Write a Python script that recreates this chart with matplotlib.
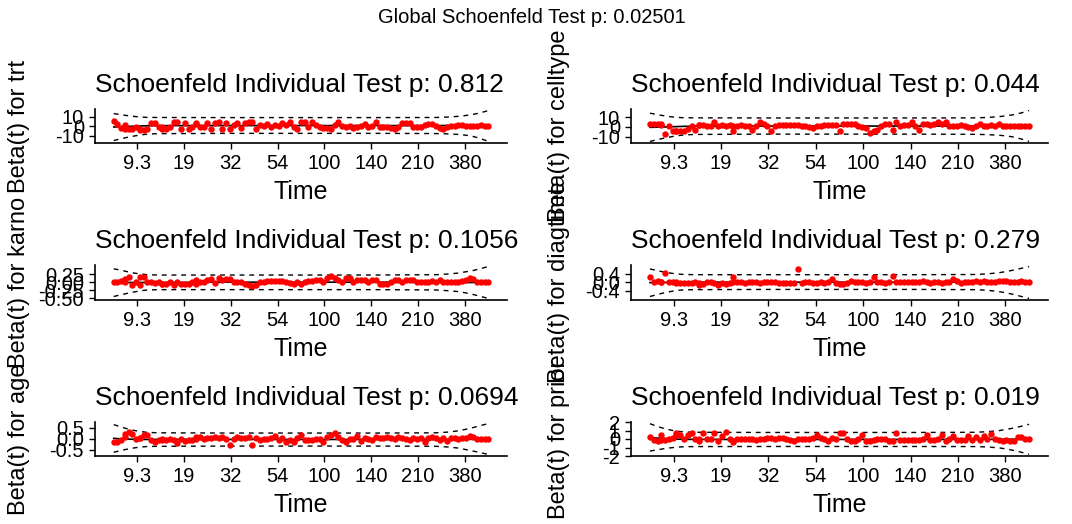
import matplotlib
matplotlib.use("Agg")
import matplotlib.pyplot as plt
from matplotlib.transforms import Bbox, TransformedBbox

plt.rcParams['font.family'] = ['Liberation Sans', 'DejaVu Sans']

# ---------------------------------------------------------------- data
GLOBAL_P = "0.02501"

# event positions on the KM-transformed time axis (0 = first event, 100 = last)
TIME_POS = [0, 1, 2, 3, 3, 4, 5, 6, 7, 7, 8, 9, 10, 11, 12, 13, 13, 14, 15, 16,
            17, 18, 19, 20, 21, 22, 22, 23,
            24, 25, 26, 27, 28, 29, 30, 31, 32, 33, 34, 35, 36, 37, 38, 39, 40,
            41, 42, 43, 44, 45, 46, 47, 48, 49, 50, 51, 52, 53, 54, 55, 56, 57,
            58, 59, 60, 61, 62, 63, 64, 65, 66, 67, 68, 69, 70, 71, 72, 73, 74,
            75, 76, 77, 78, 79, 80, 81, 82, 83, 84, 85, 86, 87, 88, 89, 90, 91,
            92, 93, 94, 95, 96, 97, 98, 99, 100]
TIME_TICK_LABELS = ["9.3", "19", "32", "54", "100", "140", "210", "380"]

# smoothed beta(t) and its confidence band, evaluated on these positions
SMOOTH_POS = [0, 1.5, 3, 4.5, 6, 7.5, 9, 12, 30, 50, 70, 86, 89, 92, 94, 96, 98, 100]

covariates = ["trt", "celltype", "karno", "diagtime", "age", "prior"]
p_values = ["0.812", "0.044", "0.1056", "0.279", "0.0694", "0.019"]

resid_trt = [5, 2.5, -1.5, 1.5, -2.5, -2.5, -3, -1, -3.5, -3, -3.5, -3, 3, 3, -1,
             -2.5, -1, -2.5, -1, 4, 4, -2.5, 3, -2.5, -1, 3, 2, -1,
             -1, 3, -2.5, 3, 4, -2.5, 3, -3, 1, 3, -1.5, 3, 4, 4, -3, 1, 0, 2,
             -1, 1, 0, 3, 1, 4, -1, -3, 4, 4, -1, 4, 1, -1, -2, -2, -3, 1, 4,
             0, -1, 0, -2, -1, 0, 2, -1, 0, 4, -1, -1, -1, -2, -2.5, -1, 3, 3.5,
             3, -0.5, -1, -0.5, 1, 2, 2, 0, -2, -2.5, -1, 0, 0.5, 1, 1, 0.5,
             0.5, 0.5, 0.5, 1, 0.5, 0.5]
resid_celltype = [3, 3, 3, 3, 2, -7, 1, -4.5, -4.5, -4, -4, -4, -2, 1, -3, 2, 2,
                  2, 1, 1, 5, 1, 2, 1, 1.5, -4, 1, 1,
                  2, 1, 1, -3, 1, 5, 3, 1, -4, 1, 1.5, 1.5, 1.5, 1.5, 1.5, 1.5,
                  0.5, 0.5, -0.5, -1, 0.5, 1, 1.5, 1.5, 1.5, 1.5, -4, 3, 3, 3,
                  3, 1, 0, -1, -6, -4, -3, 1, 3, 3, -3, 5, 1, 1.5, 2, 5, 1, -3,
                  3, 3, 2, 3, 5, 3, 5, 1, 1, 1, 1.5, 1, 0, -1, 0.5, 3, 1, 1,
                  1.5, 1, 3, 1, 1, 0.5, 0.5, 0.5, 0.5, 0.5, 0.5]
resid_karno = [0.02, 0.02, 0.03, 0.09, 0.0, 0.15, -0.08, 0.0, -0.08, 0.15, 0.15,
               0.0, 0.02, -0.02, 0.0, -0.06, -0.06, -0.06, 0.0, -0.1, 0.02,
               -0.05, -0.05, -0.06, 0.0, 0.07, -0.06, 0.0,
               0.0, 0.07, 0.09, -0.03, 0.12, 0.07, 0.1, 0.09, 0.0, 0.0,
               0.0, -0.05, -0.1, -0.12, -0.1, 0.0, 0.02, 0.05, 0.05, 0.05,
               0.05, 0.05, 0.0, -0.04, -0.05, 0.0, -0.05, 0.02, 0.05, 0.05,
               0.07, 0.07, 0.0, 0.12, 0.2, 0.12, 0.07, 0.0, 0.12, 0.12,
               0.02, 0.07, 0.07, 0.07, 0.02, 0.07, 0.07, -0.06, -0.05, -0.05,
               0.0, 0.08, 0.08, 0.02, 0.07, 0.07, 0.08, 0.0, 0.0, -0.01,
               0.0, 0.05, 0.02, 0.07, 0.0, 0.0, 0.0, 0.0, 0.0, 0.05,
               0.07, 0.12, 0.1, 0.0, 0.0, 0.0, 0.0]
resid_diagtime = [0.22, 0.03, 0.07, 0.03, 0.0, 0.44, 0.03, 0.0, 0.0, -0.02,
                  -0.02, -0.02, -0.02, -0.02, 0.0, -0.12, -0.05, -0.1, 0.0, 0.0,
                  -0.05, -0.12, -0.05, -0.1, -0.05, 0.22, 0.0, 0.0,
                  0.0, -0.02, 0.0, 0.02, 0.0, -0.02, 0.0, 0.0, 0.02, 0.0,
                  -0.02, -0.02, -0.04, -0.02, -0.04, 0.62, -0.02, 0.0, 0.03, -0.04,
                  -0.02, 0.0, -0.02, 0.03, 0.13, -0.02, -0.07, -0.07, -0.04, 0.05,
                  0.0, 0.03, 0.03, -0.04, 0.0, 0.22, 0.03, 0.0, -0.02, 0.0,
                  0.28, 0.0, 0.0, 0.0, 0.0, 0.0, 0.0, 0.0, 0.06, 0.0,
                  -0.02, 0.0, 0.03, -0.02, 0.0, 0.03, 0.13, 0.07, -0.02, 0.0,
                  0.03, 0.0, 0.05, 0.03, 0.06, 0.03, 0.0, 0.0, 0.07, 0.05,
                  0.05, 0.03, 0.03, 0.03, 0.05, 0.03, 0.03]
resid_age = [-0.14, -0.14, -0.04, 0.21, 0.07, 0.29, 0.21, 0.0, 0.04, 0.04, 0.19,
             0.19, -0.04, -0.14, -0.04, 0.0, -0.07, -0.07, 0.0, -0.07, -0.21,
             0.0, -0.1, -0.04, -0.04, 0.07, 0.0, 0.07,
             0.0, 0.04, 0.04, 0.1, 0.04, 0.1, 0.0, -0.29, 0.0, 0.07,
             0.04, 0.04, 0.1, -0.29, 0.04, -0.07, 0.0, 0.0, 0.04, 0.14,
             -0.07, 0.04, -0.14, -0.04, -0.14, 0.04, 0.19, -0.04, -0.04, -0.04,
             0.0, 0.0, -0.14, 0.1, 0.19, 0.24, 0.07, -0.04, -0.14, 0.0,
             0.0, 0.14, -0.1, 0.04, 0.0, -0.04, 0.07, 0.04, 0.04, 0.07,
             0.04, 0.0, 0.07, 0.04, 0.0, -0.04, 0.04, 0.0, 0.04, -0.14,
             0.04, 0.07, 0.04, -0.04, 0.04, -0.1, 0.04, 0.04, 0.0, 0.04,
             0.04, 0.14, 0.1, 0.0, 0.0, 0.0, 0.0]
resid_prior = [0.19, -0.1, -0.19, 0.5, -0.1, -0.1, 0.0, 0.1, 0.65, 0.5, 0.5, 0.0,
               0.5, 0.65, 0.0, -0.27, 0.0, 0.65, 0.0, 0.0, 0.65, -0.19, 0.3,
               0.87, 0.0, -0.19, -0.3, 0.0,
               0.0, 0.0, 0.0, 0.0, -0.1, 0.0, 0.0, 0.1, 0.1, 0.0,
               0.1, 0.1, 0.0, -0.1, -0.2, 0.0, 0.0, 0.0, 0.0, 0.1,
               0.5, 0.1, 0.0, -0.2, 0.1, 0.0, 0.65, 0.65, 0.0, -0.2,
               -0.2, 0.0, 0.5, -0.2, -0.27, -0.1, 0.0, 0.0, 0.0, -0.2,
               -0.2, 0.65, -0.1, -0.1, -0.1, -0.1, -0.1, -0.1, 0.0, 0.5,
               -0.1, -0.1, 0.0, 0.5, -0.2, 0.0, 0.4, -0.1, -0.1, -0.1,
               0.4, -0.1, 0.2, -0.1, 0.4, 0.0, 0.6, 0.0, -0.1, -0.2,
               -0.1, -0.2, -0.2, 0.2, 0.2, 0.0, 0.0]

fit_trt = [-0.8, -0.6, -0.3, -0.1, 0.1, 0.3, 0.5, 0.6, 0.7, 0.7, 0.7, 0.7, 0.8, 0.9, 1.0, 0.9, 0.6, 0.2]
upper_trt = [13.3, 12.4, 11.5, 10.7, 10.1, 9.6, 9.3, 9.2, 9.1, 9.1, 9.1, 9.2, 9.6, 10.4, 11.3, 12.5, 14.2, 16.5]
lower_trt = [-15.0, -13.6, -12.2, -11.0, -9.9, -9.0, -8.3, -7.8, -7.5, -7.5, -7.5, -7.7, -8.0, -8.6, -9.4, -10.8, -13.0, -16.0]

fit_celltype = [-0.5, -0.4, -0.2, -0.1, 0.1, 0.3, 0.5, 0.7, 0.8, 0.8, 0.8, 0.8, 0.8, 0.9, 1.0, 1.0, 0.9, 0.8]
upper_celltype = [14.0, 12.9, 11.8, 10.8, 10.1, 9.6, 9.3, 9.2, 9.1, 9.1, 9.1, 9.2, 9.6, 10.4, 11.3, 12.5, 14.3, 16.7]
lower_celltype = [-15.0, -13.6, -12.2, -11.0, -9.9, -9.0, -8.3, -7.8, -7.5, -7.5, -7.5, -7.7, -8.0, -8.6, -9.3, -10.5, -12.5, -15.0]

fit_karno = [-0.02, -0.01, -0.01, -0.01, -0.01, -0.01, -0.01, -0.01, 0.0, 0.0, 0.0, 0.0, 0.0, -0.01, -0.01, -0.01, -0.01, -0.01]
upper_karno = [0.41, 0.38, 0.34, 0.30, 0.27, 0.25, 0.23, 0.22, 0.22, 0.22, 0.22, 0.23, 0.25, 0.28, 0.32, 0.36, 0.42, 0.48]
lower_karno = [-0.44, -0.40, -0.36, -0.32, -0.29, -0.26, -0.24, -0.23, -0.23, -0.23, -0.23, -0.24, -0.26, -0.29, -0.33, -0.38, -0.44, -0.50]

fit_diagtime = [-0.02, -0.02, -0.02, -0.01, -0.01, -0.01, 0.0, 0.0, 0.0, 0.0, 0.0, 0.0, 0.01, 0.0, 0.0, -0.01, -0.01, -0.02]
upper_diagtime = [0.62, 0.56, 0.50, 0.45, 0.41, 0.38, 0.36, 0.35, 0.35, 0.35, 0.35, 0.36, 0.39, 0.44, 0.50, 0.57, 0.65, 0.73]
lower_diagtime = [-0.67, -0.60, -0.53, -0.47, -0.42, -0.38, -0.36, -0.35, -0.34, -0.34, -0.34, -0.35, -0.38, -0.44, -0.50, -0.58, -0.67, -0.76]

fit_age = [0.02, 0.0, -0.01, -0.02, -0.02, -0.03, -0.03, -0.03, -0.03, -0.03, -0.03, -0.03, -0.03, -0.03, -0.03, -0.02, -0.02, -0.01]
upper_age = [0.64, 0.56, 0.48, 0.41, 0.36, 0.32, 0.29, 0.27, 0.26, 0.26, 0.26, 0.27, 0.30, 0.36, 0.43, 0.51, 0.60, 0.69]
lower_age = [-0.61, -0.55, -0.49, -0.44, -0.40, -0.37, -0.35, -0.34, -0.33, -0.33, -0.33, -0.34, -0.37, -0.42, -0.49, -0.56, -0.63, -0.71]

fit_prior = [0.19, 0.12, 0.07, 0.03, 0.0, -0.02, -0.04, -0.05, -0.05, -0.05, -0.05, -0.05, -0.04, -0.03, -0.03, -0.02, -0.03, -0.03]
upper_prior = [1.80, 1.55, 1.33, 1.15, 1.00, 0.90, 0.83, 0.79, 0.77, 0.77, 0.77, 0.79, 0.86, 0.98, 1.12, 1.30, 1.50, 1.73]
lower_prior = [-1.42, -1.30, -1.19, -1.09, -1.01, -0.95, -0.91, -0.89, -0.88, -0.88, -0.88, -0.89, -0.94, -1.04, -1.17, -1.35, -1.56, -1.80]

ytick_values = {
    "trt": [-10, 0, 10],
    "celltype": [-10, 0, 10],
    "karno": [-0.50, -0.25, 0.00, 0.25],
    "diagtime": [-0.4, 0.0, 0.4],
    "age": [-0.5, 0.0, 0.5],
    "prior": [-2, -1, 0, 1, 2],
}
ytick_labels = {
    "trt": ["-10", "0", "10"],
    "celltype": ["-10", "0", "10"],
    "karno": ["-0.50", "-0.25", "0.00", "0.25"],
    "diagtime": ["-0.4", "0.0", "0.4"],
    "age": ["-0.5", "0.0", "0.5"],
    "prior": ["-2", "-1", "0", "1", "2"],
}

residuals = {"trt": resid_trt, "celltype": resid_celltype, "karno": resid_karno,
             "diagtime": resid_diagtime, "age": resid_age, "prior": resid_prior}
fits = {"trt": fit_trt, "celltype": fit_celltype, "karno": fit_karno,
        "diagtime": fit_diagtime, "age": fit_age, "prior": fit_prior}
uppers = {"trt": upper_trt, "celltype": upper_celltype, "karno": upper_karno,
          "diagtime": upper_diagtime, "age": upper_age, "prior": upper_prior}
lowers = {"trt": lower_trt, "celltype": lower_celltype, "karno": lower_karno,
          "diagtime": lower_diagtime, "age": lower_age, "prior": lower_prior}

# ---------------------------------------------------------------- layout
W, H = 1072, 524
fig = plt.figure(figsize=(W / 100, H / 100), dpi=100)
fig.patch.set_facecolor("white")

COL_X = [(95, 507), (631, 1048)]              # panel left/right in pixels
ROW_Y = [(109, 143), (265, 300), (422, 456)]  # panel top/bottom in pixels
TITLE_SIZE, TICK_SIZE, LABEL_SIZE, YLAB_SIZE = 19, 14.5, 18, 17
YLAB_X = [19, 559]

tick_pos = [(2 * k - 1) / 16 * 100 for k in range(1, 9)]

for i, cov in enumerate(covariates):
    row, col = divmod(i, 2)
    x0, x1 = COL_X[col]
    top, bot = ROW_Y[row]
    ax = fig.add_axes([x0 / W, 1 - bot / H, (x1 - x0) / W, (bot - top) / H])

    ax.plot(SMOOTH_POS, uppers[cov], color="black", lw=1.0, ls=(0, (3.5, 3.5)))
    ax.plot(SMOOTH_POS, lowers[cov], color="black", lw=1.0, ls=(0, (3.5, 3.5)))
    ax.plot(SMOOTH_POS, fits[cov], color="black", lw=1.2)
    ax.plot(TIME_POS, residuals[cov], "o", color="red", ms=4.6, mec="none")

    ax.set_xlim(-5, 105)
    ax.set_xticks(tick_pos)
    ax.set_xticklabels(TIME_TICK_LABELS)
    ax.set_yticks(ytick_values[cov])
    ax.set_yticklabels(ytick_labels[cov])
    ax.tick_params(labelsize=TICK_SIZE, length=4, width=1, pad=4,
                   colors="black", labelcolor="black")
    for side in ("top", "right"):
        ax.spines[side].set_visible(False)
    for side in ("left", "bottom"):
        ax.spines[side].set_linewidth(1.2)
        ax.spines[side].set_color("black")
    ax.set_facecolor("white")

    # panel title, left aligned to the panel and cut at the cell edge
    clip = TransformedBbox(Bbox([[0 if col == 0 else 0.5, 0], [0.5 if col == 0 else 1, 1]]),
                           fig.transFigure)
    t = fig.text(x0 / W, 1 - (top - 17) / H,
                 f"Schoenfeld Individual Test p: {p_values[i]}",
                 fontsize=TITLE_SIZE, ha="left", va="baseline")
    t.set_clip_box(clip)
    t.set_clip_on(True)

    fig.text((x0 + x1) / 2 / W, 1 - (bot + 56) / H, "Time",
             fontsize=LABEL_SIZE, ha="center", va="baseline")
    fig.text(YLAB_X[col] / W, 1 - (top + bot) / 2 / H, f"Beta(t) for {cov}",
             fontsize=YLAB_SIZE, rotation=90, ha="center", va="center")

fig.text(532 / W, 1 - 23 / H, f"Global Schoenfeld Test p: {GLOBAL_P}",
         fontsize=14.5, ha="center", va="baseline")

fig.savefig("out.png", dpi=100, facecolor="white")
